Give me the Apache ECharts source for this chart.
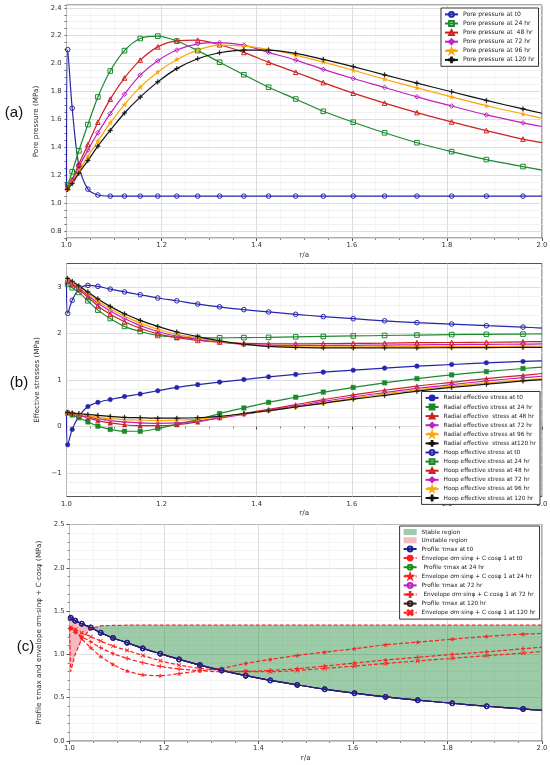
<!DOCTYPE html>
<html>
<head>
<meta charset="utf-8">
<script src="https://cdn.jsdelivr.net/npm/echarts@6.0.0/dist/echarts.min.js"></script>
<style>
  html, body { margin: 0; padding: 0; background: #fff; }
  #chart { width: 550px; height: 765px; }
</style>
</head>
<body>
<div id="chart"></div>
<script>
// r/a sample points shared by all curves (markers on the inner points)
var rA = [1.0, 1.0025, 1.012, 1.026, 1.045, 1.066, 1.092, 1.122, 1.155, 1.192, 1.232, 1.276,
          1.322, 1.373, 1.425, 1.482, 1.540, 1.603, 1.669, 1.737, 1.810, 1.883, 1.960, 2.0];

// (a) pore pressure, MPa
var poreT0  = [1.08, 2.10, 1.68, 1.27, 1.10, 1.058, 1.05, 1.05, 1.05, 1.05, 1.05, 1.05, 1.05, 1.05, 1.05, 1.05, 1.05, 1.05, 1.05, 1.05, 1.05, 1.05, 1.05, 1.05];
var pore24  = [1.10, 1.13, 1.225, 1.375, 1.563, 1.761, 1.947, 2.093, 2.18, 2.197, 2.162, 2.093, 2.01, 1.92, 1.831, 1.746, 1.658, 1.58, 1.504, 1.433, 1.369, 1.312, 1.262, 1.237];
var pore48  = [1.09, 1.11, 1.17, 1.28, 1.42, 1.58, 1.745, 1.897, 2.025, 2.12, 2.163, 2.168, 2.135, 2.08, 2.009, 1.938, 1.864, 1.788, 1.717, 1.649, 1.582, 1.52, 1.459, 1.433];
var pore72  = [1.08, 1.10, 1.16, 1.26, 1.38, 1.504, 1.642, 1.781, 1.917, 2.02, 2.097, 2.142, 2.151, 2.132, 2.08, 2.025, 1.959, 1.893, 1.829, 1.762, 1.696, 1.632, 1.575, 1.549];
var pore96  = [1.08, 1.10, 1.15, 1.23, 1.335, 1.445, 1.575, 1.706, 1.831, 1.94, 2.03, 2.097, 2.132, 2.125, 2.101, 2.061, 2.011, 1.952, 1.888, 1.826, 1.762, 1.698, 1.639, 1.608];
var pore120 = [1.08, 1.10, 1.14, 1.215, 1.305, 1.409, 1.521, 1.646, 1.76, 1.869, 1.964, 2.035, 2.078, 2.097, 2.097, 2.073, 2.03, 1.978, 1.919, 1.86, 1.798, 1.736, 1.675, 1.644];

// (b) radial effective stress, MPa
var radT0  = [0.30, -0.39, -0.06, 0.22, 0.43, 0.52, 0.58, 0.645, 0.70, 0.77, 0.84, 0.90, 0.955, 1.01, 1.068, 1.12, 1.168, 1.21, 1.255, 1.297, 1.333, 1.369, 1.398, 1.41];
var rad24  = [0.33, 0.29, 0.25, 0.19, 0.10, 0.01, -0.06, -0.10, -0.10, -0.04, 0.05, 0.15, 0.28, 0.40, 0.52, 0.63, 0.74, 0.84, 0.94, 1.03, 1.11, 1.18, 1.247, 1.276];
var rad48  = [0.33, 0.31, 0.28, 0.24, 0.19, 0.13, 0.08, 0.04, 0.02, 0.02, 0.04, 0.10, 0.19, 0.28, 0.37, 0.47, 0.58, 0.68, 0.78, 0.87, 0.95, 1.03, 1.10, 1.14];
var rad72  = [0.32, 0.31, 0.29, 0.25, 0.21, 0.17, 0.13, 0.10, 0.08, 0.07, 0.08, 0.12, 0.18, 0.26, 0.35, 0.44, 0.54, 0.64, 0.73, 0.82, 0.90, 0.98, 1.05, 1.08];
var rad96  = [0.31, 0.30, 0.29, 0.26, 0.23, 0.20, 0.17, 0.15, 0.14, 0.13, 0.14, 0.16, 0.21, 0.27, 0.34, 0.42, 0.51, 0.61, 0.70, 0.79, 0.87, 0.94, 1.00, 1.03];
var rad120 = [0.30, 0.30, 0.29, 0.28, 0.26, 0.24, 0.22, 0.20, 0.19, 0.18, 0.18, 0.19, 0.22, 0.28, 0.34, 0.42, 0.50, 0.59, 0.67, 0.76, 0.84, 0.91, 0.98, 1.01];
// (b) hoop effective stress, MPa
var hoopT0  = [3.15, 2.43, 2.71, 2.95, 3.03, 3.01, 2.95, 2.89, 2.83, 2.76, 2.70, 2.63, 2.57, 2.51, 2.46, 2.41, 2.36, 2.315, 2.27, 2.23, 2.20, 2.165, 2.135, 2.115];
var hoop24  = [3.15, 3.06, 2.98, 2.88, 2.70, 2.50, 2.32, 2.15, 2.04, 1.955, 1.92, 1.91, 1.905, 1.91, 1.915, 1.925, 1.935, 1.945, 1.955, 1.965, 1.975, 1.98, 1.985, 1.99];
var hoop48  = [3.16, 3.12, 3.05, 2.94, 2.78, 2.59, 2.41, 2.25, 2.11, 1.99, 1.91, 1.85, 1.815, 1.785, 1.775, 1.775, 1.78, 1.785, 1.79, 1.80, 1.805, 1.81, 1.82, 1.825];
var hoop72  = [3.17, 3.14, 3.08, 2.97, 2.82, 2.65, 2.48, 2.32, 2.17, 2.04, 1.94, 1.87, 1.81, 1.765, 1.745, 1.74, 1.74, 1.745, 1.75, 1.755, 1.76, 1.765, 1.77, 1.775];
var hoop96  = [3.18, 3.16, 3.10, 3.00, 2.86, 2.70, 2.53, 2.37, 2.22, 2.09, 1.98, 1.90, 1.83, 1.77, 1.73, 1.715, 1.71, 1.71, 1.715, 1.715, 1.72, 1.72, 1.725, 1.73];
var hoop120 = [3.20, 3.18, 3.12, 3.02, 2.89, 2.74, 2.58, 2.42, 2.28, 2.15, 2.03, 1.93, 1.84, 1.77, 1.72, 1.70, 1.69, 1.69, 1.69, 1.69, 1.695, 1.695, 1.70, 1.70];

// (c) tau max profile (same at every time) and failure envelopes, MPa
var tauMax = [1.44, 1.423, 1.39, 1.354, 1.31, 1.25, 1.19, 1.135, 1.07, 1.008, 0.942, 0.877, 0.815, 0.754, 0.70, 0.648, 0.598, 0.552, 0.51, 0.471, 0.436, 0.401, 0.37, 0.355];
var envT0  = [1.31, 0.80, 1.00, 1.18, 1.30, 1.33, 1.335, 1.337, 1.338, 1.338, 1.338, 1.338, 1.338, 1.338, 1.338, 1.338, 1.338, 1.338, 1.338, 1.338, 1.338, 1.338, 1.338, 1.338];
var env24  = [1.31, 1.305, 1.28, 1.18, 1.077, 0.977, 0.885, 0.808, 0.765, 0.754, 0.777, 0.81, 0.84, 0.896, 0.942, 0.988, 1.026, 1.065, 1.111, 1.142, 1.176, 1.208, 1.234, 1.242];
var env72  = [1.31, 1.30, 1.254, 1.204, 1.146, 1.077, 1.01, 0.954, 0.904, 0.862, 0.831, 0.812, 0.80, 0.805, 0.815, 0.835, 0.865, 0.90, 0.935, 0.967, 1.0, 1.03, 1.065, 1.085];
var env120 = [1.32, 1.31, 1.29, 1.25, 1.204, 1.154, 1.096, 1.046, 0.988, 0.927, 0.877, 0.84, 0.815, 0.80, 0.80, 0.815, 0.838, 0.866, 0.895, 0.925, 0.955, 0.985, 1.015, 1.035];

var PLUS = 'path://M4.3,0H5.7V4.3H10V5.7H5.7V10H4.3V5.7H0V4.3H4.3Z';
var CROSS = 'path://M1,0L5,4L9,0L10,1L6,5L10,9L9,10L5,6L1,10L0,9L4,5L0,1Z';
var STAR = 'path://M50,0L61.8,35.3H99L68.9,57.1L80.3,92.4L50,70.6L19.7,92.4L31.1,57.1L1,35.3H38.2Z';

var BLUE = '#2525ad', GREEN = '#1b8a2e', RED = '#cc2222', MAG = '#c020c0', ORANGE = '#ffa500', BLACK = '#111111';
var NAVY = '#1e1e8e', ENV = '#ff1f1f';
var MAJOR = '#d4d4d4', MINOR = '#ececec', NONE = 'rgba(0,0,0,0)';
var STABLE = 'rgba(34,139,60,0.45)', UNSTABLE = 'rgba(225,60,80,0.35)';

function pts(ys) {
  return rA.map(function (x, i) {
    var d = {value: [x, ys[i]]};
    if (i === 0 || i === rA.length - 1) d.symbol = 'none';
    return d;
  });
}

function curve(name, panel, ys, color, symbol, open, extra) {
  var s = {
    name: name, type: 'line', xAxisIndex: panel, yAxisIndex: panel,
    data: pts(ys), smooth: 0.3, symbol: symbol, symbolSize: 4.6,
    lineStyle: {color: color, width: 1.2},
    itemStyle: open ? {color: NONE, borderColor: color, borderWidth: 1}
                    : {color: color, borderColor: color, borderWidth: 0.4},
    emphasis: {disabled: true}
  };
  for (var k in extra) s[k] = extra[k];
  return s;
}

function envCurve(name, ys, symbol) {
  return curve(name, 2, ys, ENV, symbol, false, {
    symbolSize: 4, lineStyle: {color: ENV, width: 1.2, type: [4, 2]}
  });
}

function xAxis(i) {
  return {
    gridIndex: i, type: 'value', min: 1, max: 2, interval: 0.2,
    name: 'r/a', nameLocation: 'middle', nameGap: 13.5,
    nameTextStyle: {fontSize: 7.2, color: '#333'},
    axisLine: {show: false},
    axisTick: {length: 3, lineStyle: {color: '#555'}},
    minorTick: {show: true, splitNumber: 4, length: 1.8, lineStyle: {color: '#777'}},
    axisLabel: {fontSize: 6.8, color: '#333', margin: 4, formatter: function (v) { return v.toFixed(1); }},
    splitLine: {show: true, lineStyle: {color: MAJOR, width: 0.8}},
    minorSplitLine: {show: true, lineStyle: {color: MINOR, width: 0.6}}
  };
}

function legendBox(names, top, right, fs) {
  return {
    data: names, orient: 'vertical', top: top, right: right,
    itemWidth: 13, itemHeight: 6, itemGap: 2.3, padding: [3, 4, 3, 3],
    borderColor: '#333', borderWidth: 1, borderRadius: 0, backgroundColor: '#fff',
    selectedMode: false,
    textStyle: {fontSize: fs, color: '#222', lineHeight: 6}
  };
}

// region between the tau profile and the t0 envelope; sign +1 = envelope above (stable)
function regionPoints(sign) {
  var p = [];
  for (var i = 0; i < rA.length; i++) {
    var d = (envT0[i] - tauMax[i]) * sign;
    p.push([rA[i], tauMax[i], envT0[i]]);
    if (i < rA.length - 1) {
      var d1 = (envT0[i + 1] - tauMax[i + 1]) * sign;
      if ((d > 0) !== (d1 > 0)) {
        var t = d / (d - d1);
        var yc = tauMax[i] + t * (tauMax[i + 1] - tauMax[i]);
        p.push([rA[i] + t * (rA[i + 1] - rA[i]), yc, yc]);
      }
    }
  }
  var lowerIdx = sign > 0 ? 1 : 2;
  var top = p.map(function (q) { return [q[0], Math.max(q[1], q[2])]; });
  var bottom = p.map(function (q) { return [q[0], q[lowerIdx]]; }).reverse();
  return top.concat(bottom);
}

function region(name, sign, color) {
  var poly = regionPoints(sign);
  return {
    name: name, type: 'custom', xAxisIndex: 2, yAxisIndex: 2, z: 1, silent: true, clip: true,
    data: [poly[0]],
    itemStyle: {color: color},
    renderItem: function (params, api) {
      return {
        type: 'polygon',
        shape: {points: poly.map(function (q) { return api.coord(q); })},
        style: {fill: color}
      };
    }
  };
}

var namesA = ['Pore pressure at t0', 'Pore pressure at 24 hr', 'Pore pressure at  48 hr',
              'Pore pressure at 72 hr', 'Pore pressure at 96 hr', 'Pore pressure at 120 hr'];
var namesB = ['Radial effective stress at t0', 'Radial effective stress at 24 hr', 'Radial effective  stress at 48 hr',
              'Radial effective stress at 72 hr', 'Radial effective stress at 96 hr', 'Radial effective  stress at120 hr',
              'Hoop effective stress at t0', 'Hoop effective stress at 24 hr', 'Hoop effective stress at 48 hr',
              'Hoop effective stress at 72 hr', 'Hoop effective stress at 96 hr', 'Hoop effective stress at 120 hr'];
var namesC = ['Stable region', 'Unstable region', 'Profile τmax at t0', 'Envelope σm·sinφ + C·cosφ 1 at t0',
              ' Profile τmax at 24 hr', 'Envelope σm·sinφ + C·cosφ 1 at 24 hr', 'Profile τmax at 72 hr',
              ' Envelope σm·sinφ + C·cosφ 1 at 72 hr', 'Profile τmax at 120 hr', 'Envelope σm·sinφ + C·cosφ 1 at 120 hr'];

var legendC = namesC.map(function (n, i) {
  return i < 2 ? {name: n, icon: 'rect', itemStyle: {color: i === 0 ? STABLE : UNSTABLE}} : n;
});

var chart = echarts.init(document.getElementById('chart'));
var option = {
  animation: false,
  backgroundColor: '#fff',
  textStyle: {fontFamily: 'DejaVu Sans'},
  grid: [
    {left: 66.5, top: 5, width: 475.5, height: 233, show: true, borderColor: '#555', borderWidth: 1, outerBoundsMode: 'none'},
    {left: 66.5, top: 263.5, width: 475.5, height: 233, show: true, borderColor: '#555', borderWidth: 1, outerBoundsMode: 'none'},
    {left: 69.5, top: 524.5, width: 472.5, height: 216.5, show: true, borderColor: '#555', borderWidth: 1, outerBoundsMode: 'none'}
  ],
  xAxis: [xAxis(0), xAxis(1), xAxis(2)],
  yAxis: [
    {
      gridIndex: 0, type: 'value', min: 0.75, max: 2.42, interval: 0.05,
      name: 'Pore pressure (MPa)', nameLocation: 'middle', nameGap: 19,
      nameTextStyle: {fontSize: 7.2, color: '#333'},
      axisLine: {show: false},
      axisTick: {length: 2, lineStyle: {color: '#666'}},
      axisLabel: {fontSize: 6.8, color: '#333', margin: 5, formatter: function (v) {
        return Math.abs(v * 5 - Math.round(v * 5)) < 1e-6 ? v.toFixed(1) : '';
      }},
      splitLine: {show: true, lineStyle: {color: [MINOR, MAJOR, MINOR, MINOR], width: 0.8}}
    },
    {
      gridIndex: 1, type: 'value', min: -1.5, max: 3.5, interval: 0.1,
      name: 'Effective stresses (MPa)', nameLocation: 'middle', nameGap: 18,
      nameTextStyle: {fontSize: 7.2, color: '#333'},
      axisLine: {show: false},
      axisTick: {show: false},
      axisLabel: {fontSize: 6.8, color: '#333', margin: 5, formatter: function (v) {
        if (Math.abs(v - Math.round(v)) > 1e-6) return '';
        var n = Math.round(v);
        return n < 0 ? '\u2212' + (-n) : '' + n;
      }},
      splitLine: {show: true, lineStyle: {color: [NONE, MINOR, NONE, MINOR, NONE, MAJOR, NONE, MINOR, NONE, MINOR], width: 0.8}}
    },
    {
      gridIndex: 2, type: 'value', min: 0, max: 2.5, interval: 0.5,
      name: 'Profile τmax and envelope σm·sinφ + C·cosφ (MPa)', nameLocation: 'middle', nameGap: 20,
      nameTextStyle: {fontSize: 7.2, color: '#333'},
      axisLine: {show: false},
      axisTick: {length: 3, lineStyle: {color: '#555'}},
      minorTick: {show: true, splitNumber: 5, length: 1.8, lineStyle: {color: '#777'}},
      axisLabel: {fontSize: 6.8, color: '#333', margin: 5, formatter: function (v) { return v.toFixed(1); }},
      splitLine: {show: true, lineStyle: {color: MAJOR, width: 0.8}},
      minorSplitLine: {show: true, lineStyle: {color: MINOR, width: 0.6}}
    }
  ],
  legend: [
    legendBox(namesA, 8, 11.5, 6.1),
    legendBox(namesB, 391.5, 10, 5.8),
    legendBox(legendC, 526, 10.5, 5.8)
  ],
  graphic: [
    {type: 'text', x: 14, y: 113, style: {text: '(a)', font: '15px "Liberation Sans"', fill: '#111', align: 'center', verticalAlign: 'middle'}},
    {type: 'text', x: 19, y: 382.5, style: {text: '(b)', font: '15px "Liberation Sans"', fill: '#111', align: 'center', verticalAlign: 'middle'}},
    {type: 'text', x: 25.5, y: 647, style: {text: '(c)', font: '15px "Liberation Sans"', fill: '#111', align: 'center', verticalAlign: 'middle'}}
  ],
  series: [
    curve(namesA[0], 0, poreT0, BLUE, 'circle', true),
    curve(namesA[1], 0, pore24, GREEN, 'rect', true),
    curve(namesA[2], 0, pore48, RED, 'triangle', true),
    curve(namesA[3], 0, pore72, MAG, 'diamond', true),
    curve(namesA[4], 0, pore96, ORANGE, STAR, false),
    curve(namesA[5], 0, pore120, BLACK, PLUS, false),

    curve(namesB[0], 1, radT0, BLUE, 'circle', false),
    curve(namesB[1], 1, rad24, GREEN, 'rect', false),
    curve(namesB[2], 1, rad48, RED, 'triangle', false),
    curve(namesB[3], 1, rad72, MAG, 'diamond', false),
    curve(namesB[4], 1, rad96, ORANGE, STAR, false),
    curve(namesB[5], 1, rad120, BLACK, PLUS, false),
    curve(namesB[6], 1, hoopT0, BLUE, 'circle', true),
    curve(namesB[7], 1, hoop24, GREEN, 'rect', true),
    curve(namesB[8], 1, hoop48, RED, 'triangle', true),
    curve(namesB[9], 1, hoop72, MAG, 'diamond', true),
    curve(namesB[10], 1, hoop96, ORANGE, STAR, false),
    curve(namesB[11], 1, hoop120, BLACK, PLUS, false),

    region(namesC[0], 1, STABLE),
    region(namesC[1], -1, UNSTABLE),
    // profiles at 24/72/120 hr coincide with the t0 profile and sit under it
    curve(namesC[4], 2, tauMax, '#149414', 'circle', true),
    curve(namesC[6], 2, tauMax, MAG, 'circle', true),
    curve(namesC[8], 2, tauMax, '#3a1f1f', 'circle', true),
    curve(namesC[2], 2, tauMax, NAVY, 'circle', true, {z: 4, itemStyle: {color: NONE, borderColor: NAVY, borderWidth: 1.3}}),
    curve(namesC[3], 2, envT0, ENV, 'none', false, {smooth: false, lineStyle: {color: ENV, width: 1.2, type: [4, 2]}}),
    envCurve(namesC[5], env24, STAR),
    envCurve(namesC[7], env72, PLUS),
    envCurve(namesC[9], env120, CROSS)
  ]
};
chart.setOption(option);
</script>
</body>
</html>
